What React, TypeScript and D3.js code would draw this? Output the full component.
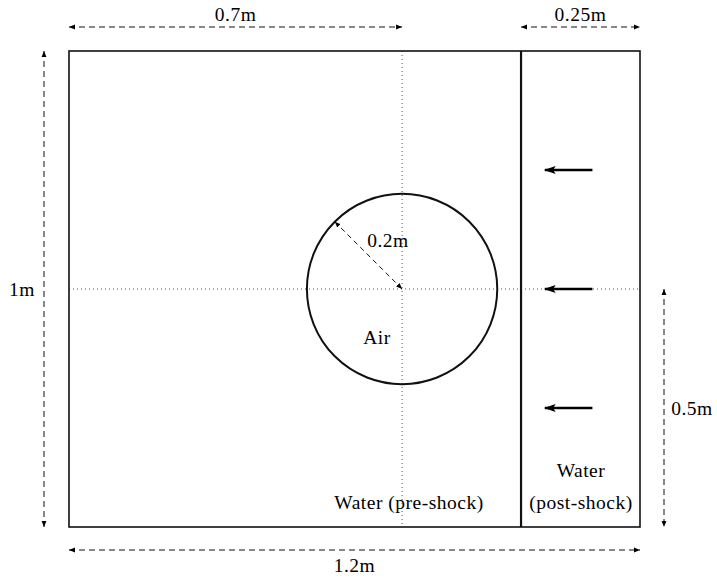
import React from 'react';
import * as d3 from 'd3';

// domain geometry (metres)
const domain = [1.2, 1.0];
const bubbleCenter = [0.7, 0.5];
const bubbleRadius = 0.2;
const shockX = 0.95;
const arrowYs = [0.25, 0.5, 0.75];
const arrowFromTo = [1.1, 1.0];

// dimension annotations
const hDims = [
  { from: 0, to: 0.7, label: '0.7m', side: 'top' },
  { from: 0.95, to: 1.2, label: '0.25m', side: 'top' },
  { from: 0, to: 1.2, label: '1.2m', side: 'bottom' },
];
const vDims = [
  { from: 0, to: 1.0, label: '1m', side: 'left' },
  { from: 0.5, to: 1.0, label: '0.5m', side: 'right' },
];

const W = 717;
const H = 580;
const textStyle: React.CSSProperties = {
  fontFamily: 'Liberation Serif, DejaVu Serif, serif',
  fontSize: 19.5,
  letterSpacing: 0.5,
};

const App: React.FC = () => {
  const x = d3.scaleLinear().domain([0, domain[0]]).range([69, 640]);
  const y = d3.scaleLinear().domain([0, domain[1]]).range([51, 527]);
  const r = x(bubbleRadius) - x(0);
  const cx = x(bubbleCenter[0]);
  const cy = y(bubbleCenter[1]);

  // radius indicator at 135 degrees (up-left)
  const ang = (-3 * Math.PI) / 4;
  const rx = cx + r * Math.cos(ang);
  const ry = cy + r * Math.sin(ang);

  const dash = '6,4';

  return (
    <div style={{ position: 'fixed', left: 0, top: 0, width: W, height: H, background: '#fff' }}>
      <svg width={W} height={H} style={{ display: 'block' }}>
        <defs>
          <marker id="ah" viewBox="0 0 10 10" refX="10" refY="5" markerWidth="6" markerHeight="6" orient="auto-start-reverse" markerUnits="userSpaceOnUse">
            <path d="M0,1 L10,5 L0,9 z" fill="#000" />
          </marker>
          <marker id="big" viewBox="0 0 10 10" refX="9" refY="5" markerWidth="12" markerHeight="12" orient="auto" markerUnits="userSpaceOnUse">
            <path d="M0,1.6 L10,5 L0,8.4 L2,5 z" fill="#000" />
          </marker>
        </defs>

        {/* centre lines */}
        <line x1={x(0)} x2={x(domain[0])} y1={cy} y2={cy} stroke="#555" strokeWidth={1} strokeDasharray="1,3" />
        <line x1={cx} x2={cx} y1={y(0)} y2={y(domain[1])} stroke="#555" strokeWidth={1} strokeDasharray="1,3" />

        {/* domain box */}
        <rect x={x(0)} y={y(0)} width={x(domain[0]) - x(0)} height={y(domain[1]) - y(0)} fill="none" stroke="#111" strokeWidth={1.6} />
        <line x1={x(shockX)} x2={x(shockX)} y1={y(0)} y2={y(domain[1])} stroke="#111" strokeWidth={2.2} />

        {/* air bubble */}
        <circle cx={cx} cy={cy} r={r} fill="none" stroke="#111" strokeWidth={2} />
        <line x1={rx} y1={ry} x2={cx} y2={cy} stroke="#111" strokeWidth={1} strokeDasharray="5,4" markerStart="url(#ah)" markerEnd="url(#ah)" />
        <text x={388} y={247} textAnchor="middle" style={textStyle}>0.2m</text>
        <text x={377} y={344} textAnchor="middle" style={textStyle}>Air</text>

        {/* shock arrows */}
        {arrowYs.map((a) => (
          <line key={a} x1={x(arrowFromTo[0])} x2={x(arrowFromTo[1])} y1={y(a)} y2={y(a)} stroke="#000" strokeWidth={2.3} markerEnd="url(#big)" />
        ))}

        {/* region labels */}
        <text x={409} y={509} textAnchor="middle" style={textStyle}>Water (pre-shock)</text>
        <text x={581} y={477} textAnchor="middle" style={textStyle}>Water</text>
        <text x={581} y={509} textAnchor="middle" style={textStyle}>(post-shock)</text>

        {/* horizontal dimensions */}
        {hDims.map((d) => {
          const yy = d.side === 'top' ? 27 : 550;
          const ty = d.side === 'top' ? 21 : 572;
          return (
            <g key={d.label}>
              <line x1={x(d.from)} x2={x(d.to)} y1={yy} y2={yy} stroke="#111" strokeWidth={1} strokeDasharray={dash} markerStart="url(#ah)" markerEnd="url(#ah)" />
              <text x={(x(d.from) + x(d.to)) / 2} y={ty} textAnchor="middle" style={textStyle}>{d.label}</text>
            </g>
          );
        })}

        {/* vertical dimensions */}
        {vDims.map((d) => {
          const xx = d.side === 'left' ? 44 : 664;
          const tx = d.side === 'left' ? 22 : 692;
          return (
            <g key={d.label}>
              <line x1={xx} x2={xx} y1={y(d.from)} y2={y(d.to)} stroke="#111" strokeWidth={1} strokeDasharray={dash} markerStart="url(#ah)" markerEnd="url(#ah)" />
              <text x={tx} y={(y(d.from) + y(d.to)) / 2 + 7} textAnchor="middle" style={textStyle}>{d.label}</text>
            </g>
          );
        })}
      </svg>
    </div>
  );
};

export default App;
